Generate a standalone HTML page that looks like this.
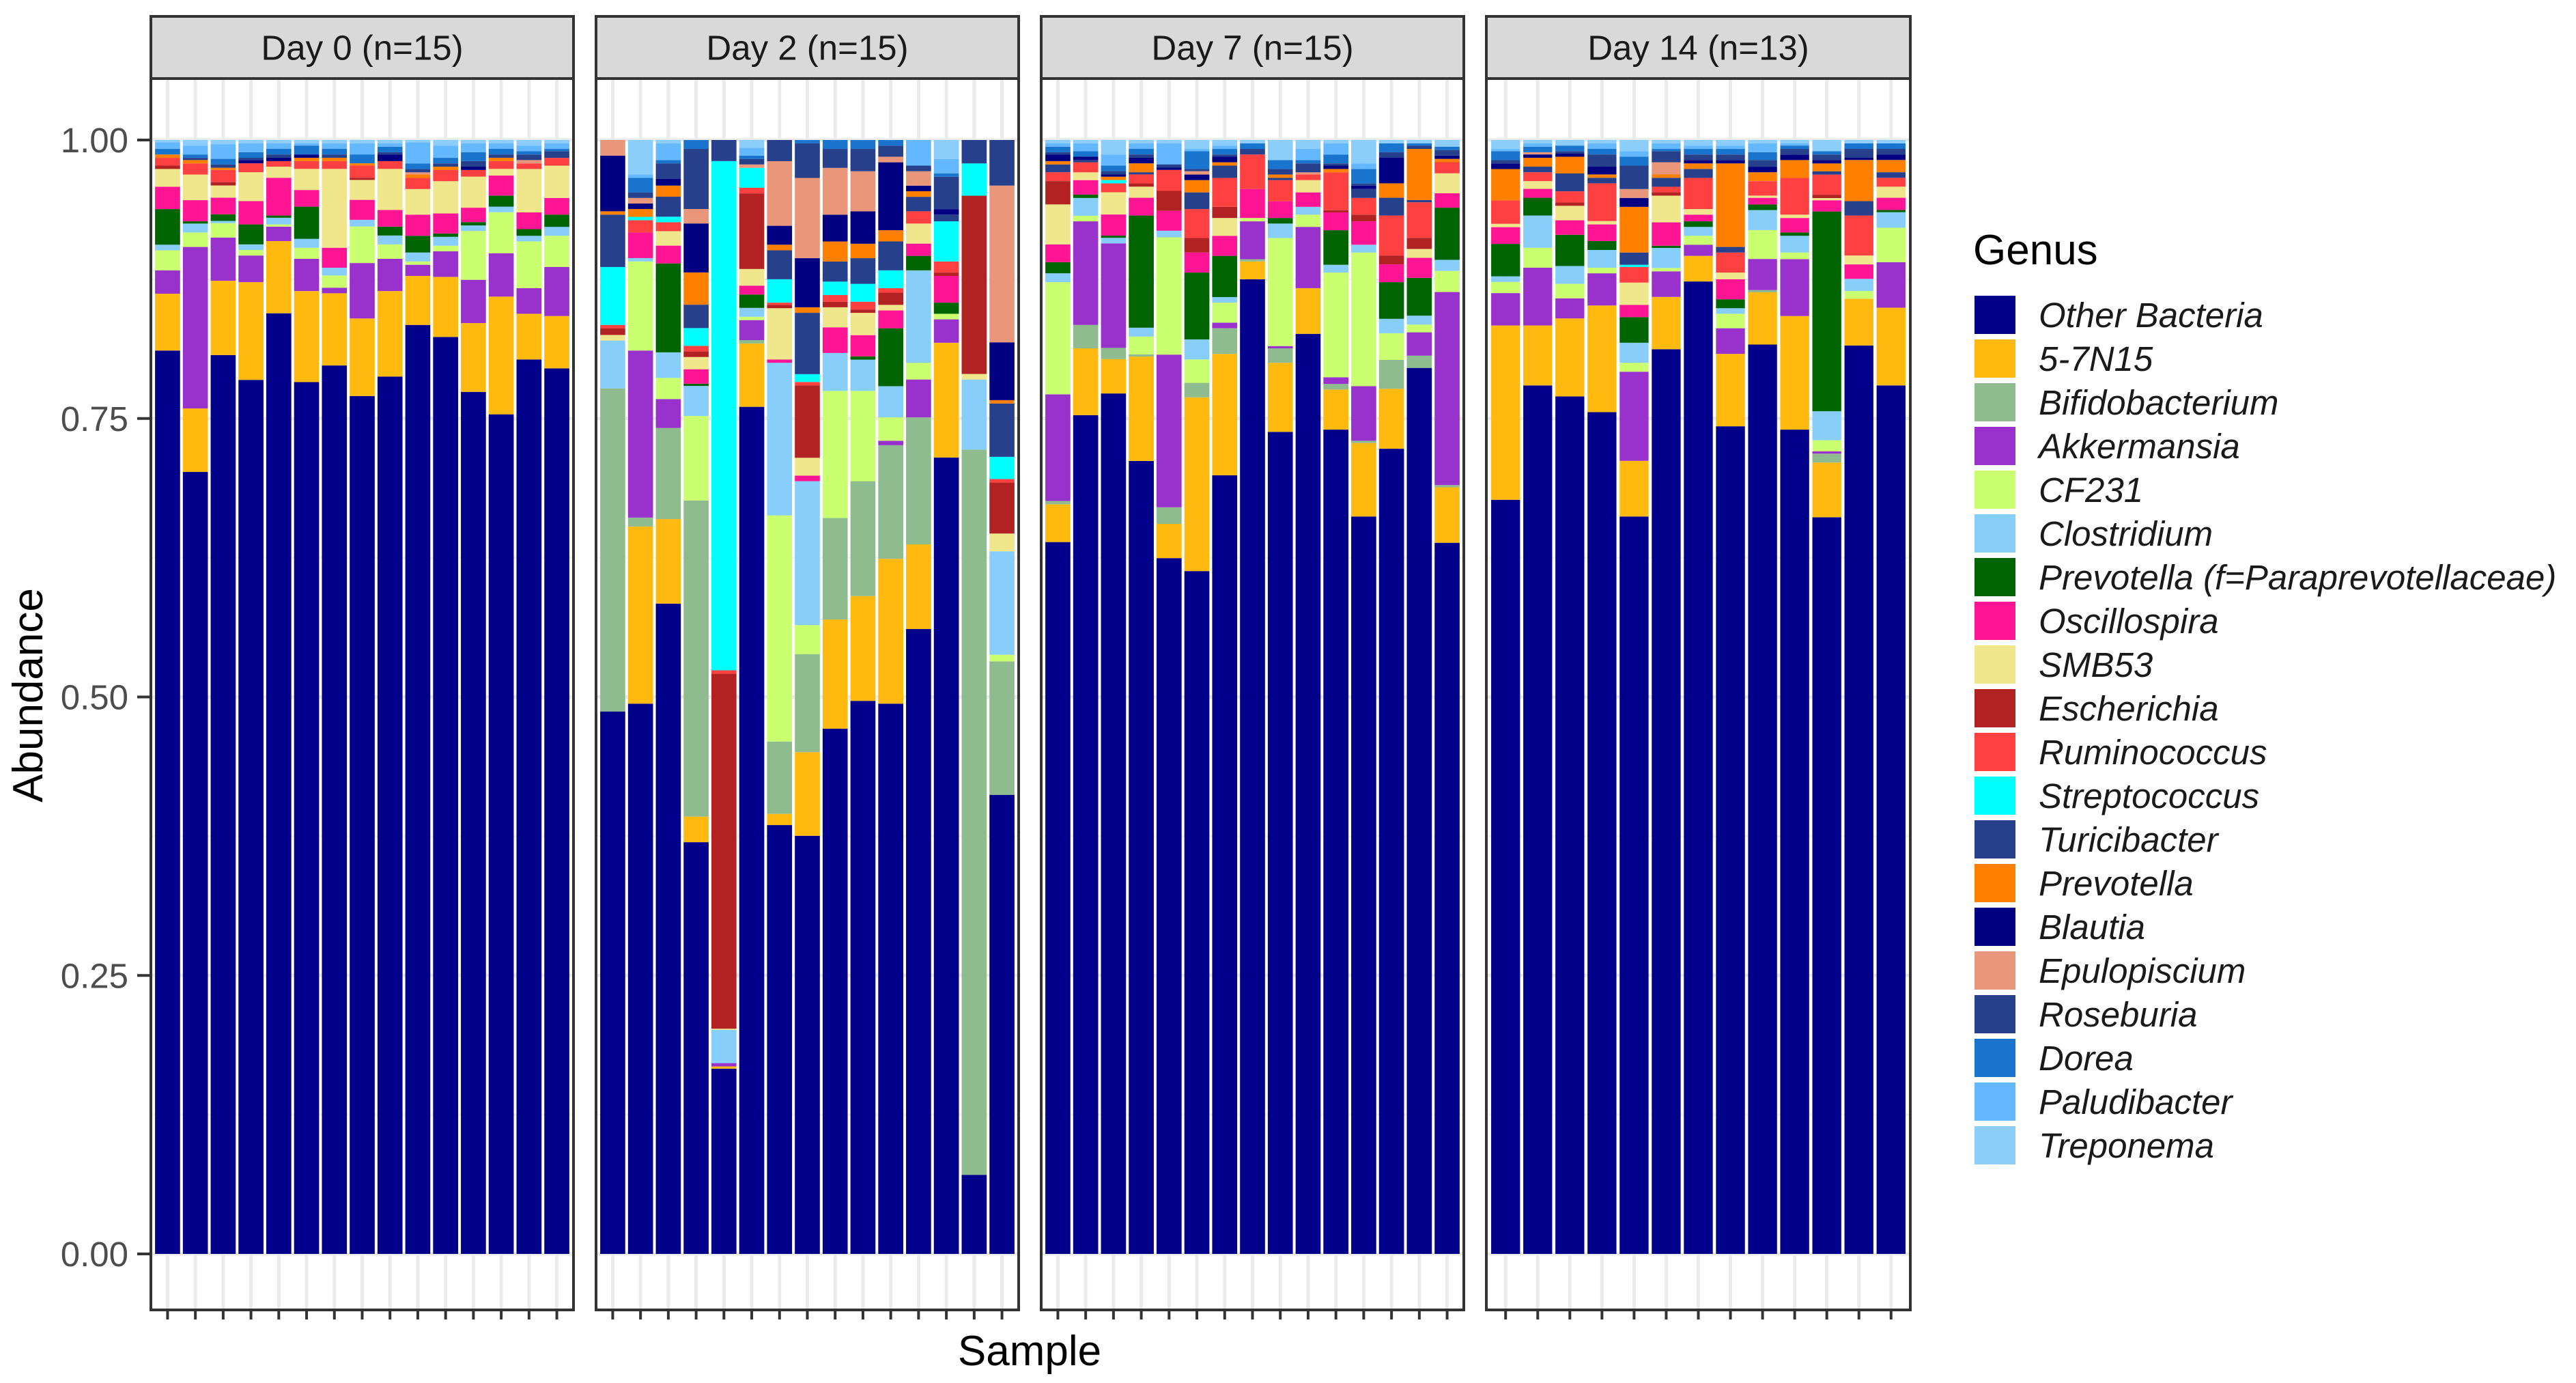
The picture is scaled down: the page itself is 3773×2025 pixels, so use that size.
<!DOCTYPE html>
<html><head><meta charset="utf-8">
<style>
html,body{margin:0;padding:0;background:#fff;}
svg{display:block;font-family:"Liberation Sans",Arial,sans-serif;}
</style></head>
<body>
<svg id="chart" width="3773" height="2025" viewBox="0 0 3773 2025" xmlns="http://www.w3.org/2000/svg"></svg>
<script>
// ---- data ----
const facets = ["Day 0 (n=15)","Day 2 (n=15)","Day 7 (n=15)","Day 14 (n=13)"];
const facetCounts = [15,15,15,13];
const genera = ["Other Bacteria","5-7N15","Bifidobacterium","Akkermansia","CF231","Clostridium","Prevotella (f=Paraprevotellaceae)","Oscillospira","SMB53","Escherichia","Ruminococcus","Streptococcus","Turicibacter","Prevotella","Blautia","Epulopiscium","Roseburia","Dorea","Paludibacter","Treponema"];
const yTicks = [0,0.25,0.5,0.75,1];
const yTickLabels = ["0.00","0.25","0.50","0.75","1.00"];

const otherBacteria = [.811,.702,.811,.787,.847,.785,.800,.774,.790,.834,.824,.777,.756,.803,.795,
 .487,.494,.585,.370,.167,.762,.385,.375,.471,.496,.494,.561,.715,.071,.413,
 .641,.753,.774,.714,.629,.613,.699,.875,.738,.826,.740,.662,.725,.797,.641,
 .675,.782,.769,.758,.662,.813,.873,.743,.818,.740,.660,.818,.782];
const g57N15 = [.051,.057,.067,.088,.065,.082,.065,.070,.077,.044,.054,.062,.106,.041,.047,
 0,.159,.076,.023,.002,.057,.010,.075,.098,.094,.130,.076,.103,0,0,
 .034,.060,.031,.094,.031,.156,.109,.016,.062,.041,.036,.066,.054,0,.050,
 .156,.054,.070,.096,.050,.047,.023,.065,.047,.102,.049,.042,.070];
const bifidobacterium = [0,0,0,0,0,0,0,0,0,0,0,0,0,0,0,
 .290,.008,.082,.284,0,.003,.065,.088,.091,.103,.102,.114,0,.651,.120,
 .003,.021,.010,.002,.015,.013,.023,.002,.013,0,.005,.002,.026,.011,.002,
 0,0,0,0,0,0,0,0,.002,0,.008,0,0];
const akkermansia = [.021,.145,.039,.024,.013,.029,.005,.050,.029,.010,.023,.039,.039,.023,.044,
 0,.150,.026,0,.003,.018,0,0,0,0,.004,.034,.021,0,0,
 .096,.093,.094,0,.138,0,.005,.034,.002,.055,.006,.049,0,.021,.174,
 .029,.052,.018,.029,.080,.023,.010,.023,.028,.051,.002,0,.041];
const cf231 = [.018,.013,.013,.005,.002,.010,.011,.033,.013,.003,.005,.044,.037,.042,.028,
 0,.080,.019,.076,0,.003,.203,.026,.114,.081,.021,.015,.005,0,.006,
 .101,.005,0,.016,.106,.021,.018,.003,.097,.011,.094,.120,.024,.007,.019,
 .010,.018,.013,.005,.008,.003,.008,.013,.026,.006,.010,.007,.031];
const clostridium = [.005,.008,.002,.005,.006,.008,.007,.006,.008,.008,.008,.005,.005,.005,.008,
 .043,.003,.023,.027,.030,.008,.137,.129,.034,.028,.028,.083,0,.063,.093,
 .008,.016,.005,.008,.006,.018,.005,0,.013,.007,.007,.007,.013,.008,.010,
 .005,.029,.016,.016,.018,.018,.008,.005,.018,.015,.026,.011,.014];
const prevotellaF = [.032,.002,.006,.018,.002,.029,0,0,.008,.015,.003,.003,.010,.006,.011,
 0,0,.080,.002,0,.012,0,0,0,.003,.052,.013,.010,0,0,
 .010,.003,.002,.101,0,.060,.037,0,.005,0,.031,0,.033,.034,.047,
 .029,.016,.028,.008,.023,.002,.005,.008,.005,.003,.179,0,.002];
const oscillospira = [.020,.019,.015,.021,.034,.015,.018,.018,.015,.019,.018,.013,.018,.015,.015,
 0,.023,.016,.013,0,.008,.003,.005,.023,.019,.016,.011,.024,0,0,
 .016,.013,.019,.016,.018,.018,.018,.026,.015,.013,.016,.021,.016,.018,.013,
 .015,.008,.013,.015,.011,.021,.006,.018,.006,.013,.010,.013,.011];
const smb53 = [.016,.023,.011,.026,.010,.019,.071,.018,.037,.023,.029,.028,.006,.039,.029,
 .005,0,.013,.011,.001,.015,.046,.016,.018,.020,.005,.018,0,.005,.016,
 .036,.007,.020,.010,0,0,.016,0,0,.011,0,0,0,.008,.018,
 .003,.007,.013,.003,.020,.024,.005,.006,.002,.003,.002,.008,.010];
const escherichia = [.003,0,.003,0,0,0,0,.002,0,0,0,0,0,0,0,
 .006,0,0,.005,.320,.068,.003,.065,.005,.003,.011,0,.003,.160,.046,
 .021,0,0,.003,.018,.013,.010,0,0,0,.002,.006,.008,.010,0,
 0,0,.003,0,0,.003,0,0,0,0,.003,0,0];
const ruminococcus = [.007,.010,.011,.008,.005,.007,.007,.011,.007,.010,.010,.006,.007,.005,.007,
 .003,.011,.008,.005,.003,.005,.002,.003,.006,.007,.004,.011,.010,0,.003,
 .008,.009,.008,.008,.019,.026,.026,.031,.019,.005,.034,.015,.036,.032,.010,
 .021,.008,.010,.034,.014,.005,.028,.018,.013,.033,.018,.036,.008];
const streptococcus = [0,0,0,0,0,0,0,0,0,0,0,0,0,0,0,
 .052,.003,.005,.016,.459,.018,.021,.007,.012,.016,.016,0,.036,.029,.020,
 0,0,.003,0,0,0,0,0,0,0,0,0,0,0,0,
 0,0,0,0,.002,0,0,0,0,0,0,0,0];
const turicibacter = [0,0,0,0,0,0,0,0,0,0,0,0,0,0,0,
 .047,0,.018,.021,0,0,.026,.055,.018,.023,.026,.013,.006,0,.048,
 .007,.002,0,.002,0,.015,.011,0,.002,0,0,.008,.016,.002,0,
 0,.005,.016,.005,.011,.008,.008,.005,0,0,.003,.013,.005];
const prevotella = [.003,.003,.002,0,0,.003,.003,.002,0,.003,.003,0,.003,0,0,
 .003,.007,.010,.029,0,0,.005,.005,.018,.013,.010,.005,0,0,.003,
 .003,0,.003,.008,0,.011,.003,0,.003,0,.003,0,.013,.046,.003,
 .028,.008,.015,.003,.041,.003,.005,.075,.008,.016,.007,.037,.011];
const blautia = [0,0,0,.003,.003,.003,0,0,.006,0,0,.003,0,0,0,
 .050,.005,.006,.044,0,0,.017,.044,.024,.029,.061,.005,.005,0,.052,
 .006,.003,.002,.005,.002,.005,.005,0,0,0,.003,.003,.023,0,.003,
 .005,.003,.003,.007,.008,0,.003,.003,.005,.005,.003,.002,.005];
const epulopiscium = [0,0,0,0,0,0,0,0,0,.002,0,0,0,.003,0,
 .014,.005,0,.013,0,.003,.058,.072,.042,.036,.005,.013,0,0,.141,
 0,0,0,0,0,.003,0,0,0,.002,0,0,0,0,0,
 0,.002,0,0,.008,.011,0,0,0,0,0,0,0];
const roseburia = [0,.002,.003,.002,.003,0,.003,0,.002,.003,.003,.005,.003,.005,.006,
 0,.005,.014,.054,.019,.005,.019,.031,.017,.020,.010,.005,.029,.021,.041,
 .002,0,.003,.003,.003,.002,.002,.005,.005,.008,.002,.002,.005,.003,.005,
 .003,0,.002,.011,.021,.010,.005,.005,.006,.005,.005,.008,.005];
const dorea = [.005,.003,.005,.005,.005,.008,.005,.008,.005,.005,.005,.008,.005,.003,.002,
 0,.013,.003,.008,0,.003,0,.003,.008,.008,.005,0,.003,0,0,
 .005,.005,.005,.005,0,.016,.005,.005,.008,.003,.008,.013,.008,.002,.003,
 .008,.005,.005,.005,.008,.002,.005,.005,.007,.003,.003,.005,.005];
const paludibacter = [.006,.008,.013,.008,.005,.002,.005,.010,.003,.019,.011,.008,.005,.005,.005,
 0,.003,.015,0,0,.007,0,0,0,0,0,.023,.013,0,0,
 .003,.007,.010,.005,.019,.002,.003,0,0,.010,.010,.005,0,0,0,
 .002,.003,0,.005,.005,.005,.003,.003,.008,.002,0,0,0];
const treponema = [.002,.005,.004,.003,.003,.003,.003,.003,.003,.002,.005,.003,.003,.005,.003,
 0,.031,.003,0,0,.007,0,0,0,0,0,0,.017,0,0,
 .003,.003,.013,.003,.003,.008,.005,.003,.018,.008,.003,.021,.003,.003,.006,
 .008,.003,.005,.003,.010,.003,.005,.005,.003,.003,.010,.003,.003];

const seriesValues = [otherBacteria,g57N15,bifidobacterium,akkermansia,cf231,clostridium,prevotellaF,oscillospira,smb53,escherichia,ruminococcus,streptococcus,turicibacter,prevotella,blautia,epulopiscium,roseburia,dorea,paludibacter,treponema];
const colors = ["#00008B","#FFB90F","#8FBC8F","#9932CC","#CAFF70","#87CEFA","#006400","#FF1493","#F0E68C","#B22222","#FF4040","#00FFFF","#27408B","#FF7F00","#000080","#E9967A","#27408B","#1874CD","#63B8FF","#8ACEF9"];

// ---- layout ----
const NS="http://www.w3.org/2000/svg";
const svg=document.getElementById('chart');
function el(tag,attrs,parent){const e=document.createElementNS(NS,tag);for(const k in attrs)e.setAttribute(k,attrs[k]);(parent||svg).appendChild(e);return e;}
const panelX=[[221,840],[873,1492],[1525,2144],[2177,2798]];
const stripTop=24, panelTop=115, panelBottom=1918;
const y0px=1836, y1px=205;
function yScale(v){return y0px-v*(y0px-y1px);}

let barIndex=0;
facets.forEach((f,pi)=>{
  const [x0,x1]=panelX[pi];
  const n=facetCounts[pi];
  const unit=(x1-x0)/(n+0.2);
  const xScale=i=>x0+(i+0.6)*unit;
  const g=el('g',{});
  
  
  el('rect',{x:x0,y:panelTop,width:x1-x0,height:panelBottom-panelTop,fill:'#fff'},g);
  [0.125,0.375,0.625,0.875].forEach(v=>{el('line',{x1:x0,x2:x1,y1:yScale(v),y2:yScale(v),stroke:'#F2F2F2','stroke-width':3},g);});
  yTicks.forEach(v=>{el('line',{x1:x0,x2:x1,y1:yScale(v),y2:yScale(v),stroke:'#EBEBEB','stroke-width':5},g);});
  for(let i=0;i<n;i++){el('line',{x1:xScale(i),x2:xScale(i),y1:panelTop,y2:panelBottom,stroke:'#EBEBEB','stroke-width':5},g);}
  for(let i=0;i<n;i++){
    const b=barIndex+i;
    let total=0; seriesValues.forEach(s=>total+=s[b]);
    let cum=0;
    const bg=el('g',{},g);
    
    
    seriesValues.forEach((s,si)=>{
      const v=s[b]/total;
      if(v<=0) return;
      const yt=yScale(cum+v), yb=yScale(cum);
      const r=el('rect',{x:xScale(i)-0.45*unit,y:yt,width:0.9*unit,height:Math.max(yb-yt,0.5),fill:colors[si]},bg);
      
      
      cum+=v;
    });
    const t=el('line',{x1:xScale(i),x2:xScale(i),y1:panelBottom,y2:panelBottom+14,stroke:'#333','stroke-width':4},svg);
    
    
  }
  barIndex+=n;
  const border=el('rect',{x:x0,y:panelTop,width:x1-x0,height:panelBottom-panelTop,fill:'none',stroke:'#333','stroke-width':4},g);
  
  
  const strip=el('rect',{x:x0,y:stripTop,width:x1-x0,height:panelTop-stripTop,fill:'#D9D9D9',stroke:'#333','stroke-width':4});
  
  
  const st=el('text',{x:(x0+x1)/2,y:(stripTop+panelTop)/2+18,'text-anchor':'middle','font-size':51,fill:'#1A1A1A'});
  st.textContent=f;
  
  
});

yTicks.forEach((v,i)=>{
  const t=el('line',{x1:201,x2:221,y1:yScale(v),y2:yScale(v),stroke:'#333','stroke-width':4});
  
  
  const l=el('text',{x:188,y:yScale(v)+18,'text-anchor':'end','font-size':51,fill:'#4D4D4D'});
  l.textContent=yTickLabels[i];
  
  
});
const yt=el('text',{x:0,y:0,'text-anchor':'middle','font-size':62,fill:'#000',transform:'translate(62,1018) rotate(-90)'});
yt.textContent='Abundance';


const xt=el('text',{x:1508,y:1999,'text-anchor':'middle','font-size':62,fill:'#000'});
xt.textContent='Sample';



const lg=el('g',{});


const lt=el('text',{x:2890,y:387,'font-size':62,fill:'#000'},lg);
lt.textContent='Genus';


genera.forEach((name,i)=>{
  const y=433+i*64;
  const e=el('g',{},lg);
  
  
  el('rect',{x:2892,y:y,width:60,height:56,fill:colors[i]},e);
  const tx=el('text',{x:2986,y:y+46,'font-size':51,'font-style':'italic',fill:'#1A1A1A'},e);
  tx.textContent=name;
});
</script>
</body></html>
